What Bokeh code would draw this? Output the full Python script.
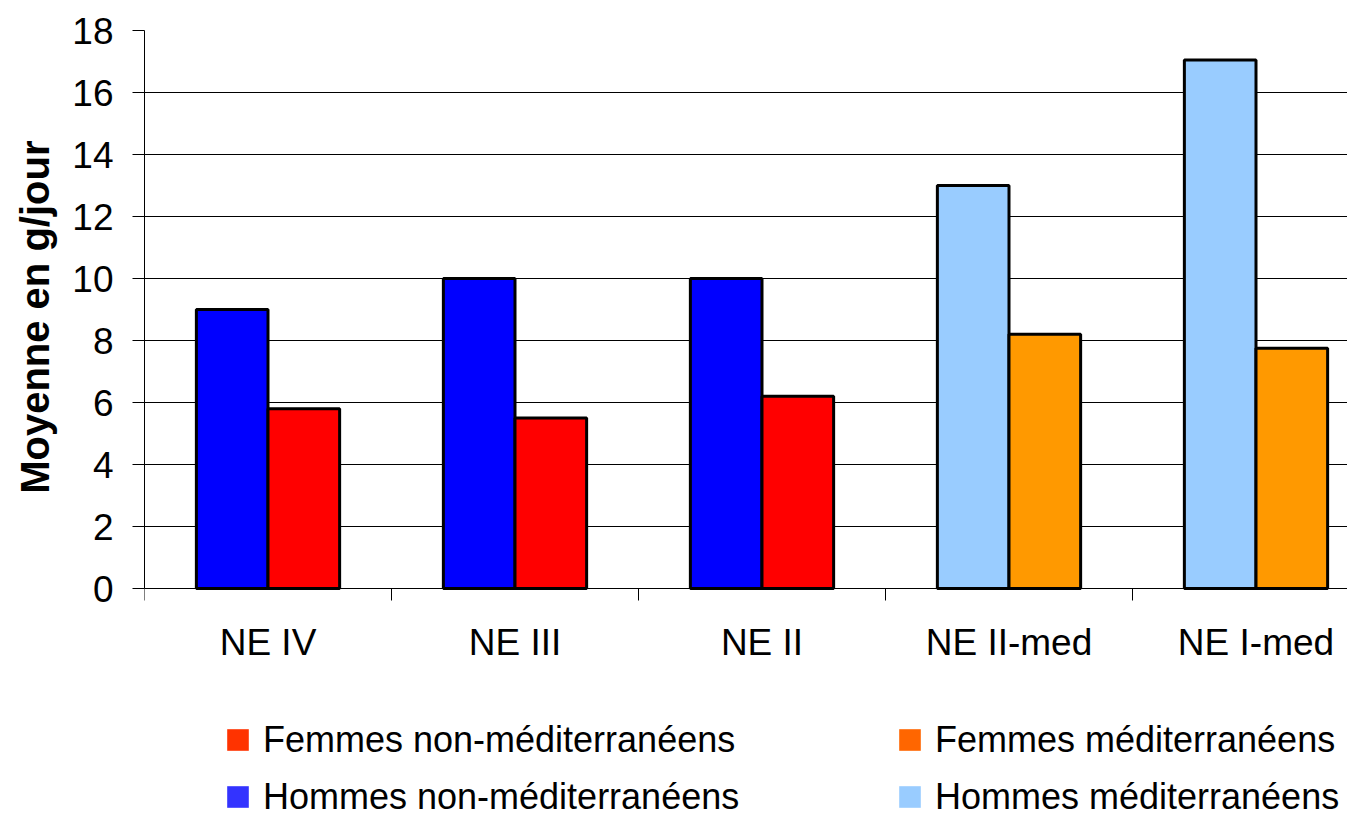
from bokeh.plotting import figure
from bokeh.models import (ColumnDataSource, Range1d, FixedTicker, Legend, LegendItem, Title)
from bokeh.embed import file_html
from bokeh.resources import INLINE

categories = ["NE IV", "NE III", "NE II", "NE II-med", "NE I-med"]
hommes = [9.0, 10.0, 10.0, 13.0, 17.05]
femmes = [5.8, 5.5, 6.2, 8.2, 7.75]
mediterraneen = [False, False, False, True, True]

series_labels = ["Femmes non-méditerranéens", "Hommes non-méditerranéens",
                 "Femmes méditerranéens", "Hommes méditerranéens"]
y_title = "Moyenne en g/jour"

COL_H_NM = "#0000FF"
COL_F_NM = "#FF0000"
COL_H_M = "#99CCFF"
COL_F_M = "#FF9900"
LEG_F_NM = "#FF3300"
LEG_H_NM = "#3333FF"
LEG_F_M = "#FF6600"
LEG_H_M = "#99CCFF"

FONT = "Liberation Sans"
BAR_W = 0.29
W, H = 1347, 818
FRAME_LEFT, FRAME_TOP, ZERO_PX = 144, 30, 588
PX_PER_UNIT = (ZERO_PX - FRAME_TOP) / 18.0
Y_MIN = -(H - ZERO_PX) / PX_PER_UNIT
X_MAX = (W - FRAME_LEFT) / 247.0

centers = [i + 0.5 for i in range(len(categories))]
h_src = ColumnDataSource(dict(
    x=[c - BAR_W / 2 for c in centers], top=hommes,
    color=[COL_H_M if m else COL_H_NM for m in mediterraneen]))
f_src = ColumnDataSource(dict(
    x=[c + BAR_W / 2 for c in centers], top=femmes,
    color=[COL_F_M if m else COL_F_NM for m in mediterraneen]))

p = figure(width=W, height=H, output_backend="svg", toolbar_location=None,
           x_range=Range1d(0, X_MAX), y_range=Range1d(Y_MIN, 18),
           min_border_left=FRAME_LEFT, min_border_right=0, min_border_top=FRAME_TOP,
           min_border_bottom=0, outline_line_color=None,
           background_fill_color="white", border_fill_color="white")

p.vbar(x="x", top="top", bottom=0, width=BAR_W, source=h_src, fill_color="color",
       line_color="black", line_width=3)
p.vbar(x="x", top="top", bottom=0, width=BAR_W, source=f_src, fill_color="color",
       line_color="black", line_width=3)

# grid
p.xgrid.grid_line_color = None
p.ygrid.ticker = FixedTicker(ticks=list(range(0, 19, 2)))
p.ygrid.grid_line_color = "black"
p.ygrid.grid_line_width = 1

# y axis
yax = p.yaxis[0]
yax.ticker = FixedTicker(ticks=list(range(0, 19, 2)))
yax.bounds = (0, 18)
yax.major_tick_out = 12
yax.major_tick_in = 0
yax.minor_tick_line_color = None
yax.axis_line_color = "black"
yax.major_tick_line_color = "black"
yax.major_label_text_font = FONT
yax.major_label_text_font_size = "37px"
yax.major_label_text_color = "black"
yax.major_label_standoff = 19

# y title (placed along the 0..18 part of the axis)
p.add_layout(Title(text=y_title, align="right", offset=110, standoff=22,
                   vertical_align="top",
                   text_font=FONT, text_font_size="40px", text_font_style="bold",
                   text_color="black"), "left")

# x axis, drawn at y = 0
xax = p.xaxis[0]
xax.fixed_location = 0
xax.ticker = FixedTicker(ticks=centers, minor_ticks=list(range(0, len(categories) + 1)))
xax.major_label_overrides = {c: lab for c, lab in zip(centers, categories)}
xax.major_tick_out = 0
xax.major_tick_in = 0
xax.minor_tick_out = 12
xax.minor_tick_in = 0
xax.minor_tick_line_color = "black"
xax.axis_line_color = "black"
xax.major_label_text_font = FONT
xax.major_label_text_font_size = "37px"
xax.major_label_text_color = "black"
xax.major_label_standoff = 21

# legend swatches (zero-size proxies, only their legend glyph is visible)
leg_colors = [LEG_F_NM, LEG_H_NM, LEG_F_M, LEG_H_M]
proxies = []
for c in leg_colors:
    r = p.vbar(x=[0.0], top=[0.0], bottom=[0.0], width=0.0, fill_color=c, line_color=None)
    proxies.append(r)

ITEM_H = 41
SPACING = 15
LEG_H = 2 * ITEM_H + SPACING
ROW1 = 741
LEG_Y = H - (ROW1 - ITEM_H / 2 + LEG_H)

def make_legend(items, x):
    return Legend(items=items, location=(x, LEG_Y), orientation="vertical",
                  glyph_width=27, glyph_height=27, label_standoff=12,
                  spacing=SPACING, padding=0, margin=0,
                  border_line_color=None, background_fill_alpha=0,
                  label_text_font=FONT, label_text_font_size="36px",
                  label_text_color="black")

leg1 = make_legend([LegendItem(label=series_labels[0], renderers=[proxies[0]]),
                    LegendItem(label=series_labels[1], renderers=[proxies[1]])], 80)
leg2 = make_legend([LegendItem(label=series_labels[2], renderers=[proxies[2]]),
                    LegendItem(label=series_labels[3], renderers=[proxies[3]])], 752)
p.add_layout(leg1, "center")
p.add_layout(leg2, "center")

open("out.html", "w").write(file_html(p, INLINE))
